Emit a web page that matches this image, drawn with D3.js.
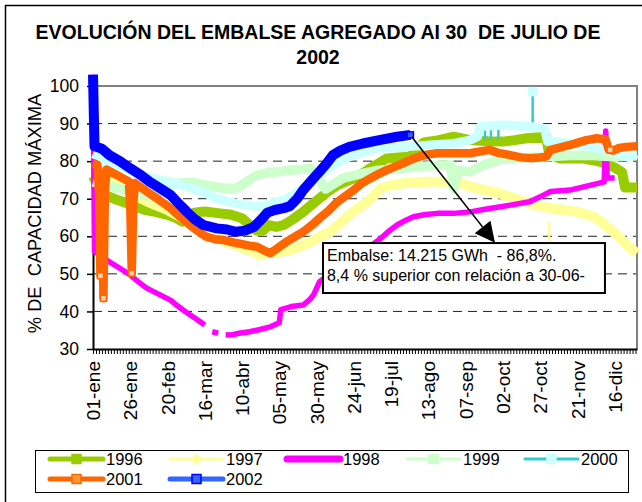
<!DOCTYPE html>
<html>
<head>
<meta charset="utf-8">
<script src="https://cdnjs.cloudflare.com/ajax/libs/d3/7.8.5/d3.min.js"></script>
<style>
  body { margin: 0; background: #fff; }
  svg { display: block; font-family: "Liberation Sans", Arial, sans-serif; }
  text { white-space: pre; }
</style>
</head>
<body>
<div id="chart"></div>
<script>
// values: [day of year (0 = 01-ene), % of max capacity]
var s1996 = [[0,76],[4,73],[8,71],[14,70],[20,69.2],[28,68],[35,67],[42,66.5],[50,65.7],[55,65],[60,63.9],[64,64.5],[68,66.3],[75,66.6],[85,66.1],[92,65.8],[100,64.8],[105,63],[110,61.5],[114,61.5],[118,63],[123,62.5],[128,63],[134,64.5],[141,66.5],[147,68.5],[152,70.1],[158,72],[164,73.6],[170,74.6],[175,75.4],[181,76.8],[186,78.1],[192,79.5],[197,80.7],[205,81],[213,81.2],[217,83],[222,85],[232,85.6],[242,86.5],[253,85.6],[265,85.3],[275,85.2],[283,85.6],[291,86.1],[304,86.5],[306,82],[313,80.7],[320,80.7],[329,80.7],[340,79.9],[346,79],[351,78.1],[355,77],[357,73],[365,73]];
var s1997 = [[0,77.5],[6,76],[12,74.5],[20,72.5],[28,70.8],[35,69.5],[42,68.3],[50,67],[58,65.3],[65,63.5],[72,62],[80,60.5],[88,58.6],[95,57.8],[101,56.8],[107,56],[112,55],[118,55.5],[125,55.8],[132,56.3],[139,57.3],[146,58.6],[152,59.8],[159,61.2],[166,63.5],[172,65.7],[178,67.5],[184,69.2],[189,71],[193,72.8],[200,73.6],[208,74.1],[217,74.4],[226,74.5],[235,74.5],[242,74.5],[248,74],[253,73.2],[263,72.3],[273,71.4],[281,70.3],[289,69.2],[298,68.2],[307,67.4],[316,67],[325,66.5],[336,65.2],[343,63.3],[349,61.2],[355,59],[360,57],[365,55.5]];
var s1998 = [[0,103],[1,56],[6,54.5],[11,53.2],[18,51.5],[25,49.7],[30,48],[36,46.2],[42,45],[47,44],[52,43],[56,41.7],[60,40.5],[65,39.1],[70,37.8],[75,36.4],[77,null],[80,34.6],[84,34.2],[86,null],[89,33.8],[92,33.7],[98,34.2],[105,34.6],[112,35.2],[119,35.9],[125,37],[126,40.5],[133,41.3],[141,41.7],[145,43],[148,44.4],[152,47.9],[158,49.7],[164,51.5],[170,53.3],[177,55],[185,57],[193,59.4],[198,61.2],[204,63],[210,64.3],[215,65.2],[223,65.8],[231,66.1],[242,66.1],[253,66.5],[266,67.4],[280,68.3],[293,69.2],[300,70.5],[307,71.9],[320,72.3],[334,73.6],[343,74.5],[344,88],[345,75.5],[350,75.5]];
var s1999 = [[0,74.5],[10,73.5],[20,72.5],[30,71.5],[40,70.5],[48,72.5],[56,74.1],[65,74.3],[70,74.1],[80,73.3],[88,72.8],[96,72.8],[103,74.5],[110,76.3],[118,77],[125,77.2],[132,77.6],[140,77.8],[146,78.1],[152,75],[156,72.5],[160,73.5],[168,75.5],[178,76.5],[190,77.5],[205,78],[219,78.5],[232,79],[240,79],[242,72.5],[245,77.5],[253,77.2],[262,79],[275,80.5],[290,81],[305,81.2],[320,81.5],[335,81.5],[350,81.2],[365,81.5]];
var s2000 = [[0,82],[8,80.5],[16,79],[25,77.5],[35,76],[45,75],[52,74.5],[60,73.5],[70,72.3],[77,71.2],[83,70.1],[90,69.3],[96,68.8],[103,68.3],[110,67.9],[116,68.2],[122,69],[130,70],[140,72.5],[150,75.5],[157,77.8],[163,79.4],[170,80.8],[175,81.6],[183,82.6],[190,83.4],[200,83.6],[208,83.8],[217,84],[226,84.3],[235,84.5],[242,84.7],[253,85.6],[258,86.5],[260,89.2],[268,89.4],[277,89.6],[285,89.4],[293,89.2],[303,88.7],[305,85.2],[315,85],[325,84.5],[334,83.8],[341,83.2],[347,82.5],[353,81.8],[358,81.2],[365,82]];
var s2001 = [[0,79.5],[3,79],[4,72],[5,49.5],[6,72],[7,43.5],[8,72],[9,77.8],[15,76.5],[24,74.6],[25,68],[26,50.2],[27,68],[28,74.2],[38,71.4],[45,69.5],[52,67.5],[58,65.3],[65,63],[70,61.5],[76,59.9],[82,59.2],[88,59],[95,58.3],[100,57.9],[105,57.5],[110,57.2],[115,56.2],[119,55.5],[123,56.6],[130,58.6],[136,60],[141,61.2],[147,63],[152,64.8],[158,66.8],[163,68.8],[169,70.6],[175,72.3],[180,74],[186,75.4],[191,76.5],[197,77.6],[203,78.6],[208,79.4],[214,80.5],[219,81.2],[225,81.8],[231,82.1],[242,82.1],[253,82.1],[260,82.6],[266,83],[272,82.2],[280,81.6],[287,81],[293,80.8],[300,81],[304,81.2],[307,83],[313,83.6],[320,84.3],[326,85],[331,85.6],[338,86.1],[344,85.8],[346,83],[349,82.8],[353,83.5],[358,83.8],[365,84]];
var s2002 = [[0,103],[1,84],[6,83.3],[11,81.6],[18,80],[25,78.1],[32,76.3],[38,74.5],[45,72.8],[52,71],[58,68.5],[63,66.5],[68,64.6],[74,63],[83,62.1],[90,61.8],[96,61.2],[102,61.5],[108,62.5],[113,64.5],[117,66.3],[122,67],[128,67.5],[132,68],[137,70],[141,72.3],[147,75],[152,77.2],[157,79.5],[161,81.6],[166,82.8],[172,83.8],[181,84.7],[192,85.6],[204,86.5],[213,87]];

// short drops / jumps drawn with the thin line colour: [day, from, to]
var spikes1997 = [[306,64,58.5]];
var spikes2000 = [[263,89.2,85.6],[267,89.2,85.6],[272,89.2,85.6],[295,89.2,98.5]];
// single visible markers
var markers2000 = [[295,98.5]];
var markers2001 = [[5,49.5],[7,43.5],[26,50.2],[347,83]];
var markers2002 = [[213,87]];

var yTicks = [30,40,50,60,70,80,90,100];
var xLabelDays = [0,25,50,75,100,125,150,175,200,225,250,275,300,325,350];
var xLabels = ["01-ene","26-ene","20-feb","16-mar","10-abr","05-may","30-may","24-jun","19-jul","13-ago","07-sep","02-oct","27-oct","21-nov","16-dic"];
var titleLines = ["EVOLUCIÓN DEL EMBALSE AGREGADO AI 30  DE JULIO DE", "2002"];
var yTitle = "% DE  CAPACIDAD MÁXIMA";
var noteLines = ["Embalse: 14.215 GWh  - 86,8%.", "8,4 % superior con relación a 30-06-"];

(function() {
  var widthSvg = 642
  var heightSvg = 502
  var plot = { left: 93, top: 86, right: 637, bottom: 349 }

  var series = [
    { name: "1996", values: s1996, band: "#99CC00", bandWidth: 10, line: "#99CC00", lineWidth: 5, marker: "square", mFill: "#99CC00", mStroke: "#99CC00" },
    { name: "1997", values: s1997, band: "#FFFF99", bandWidth: 10, line: "#FFFF99", lineWidth: 3, marker: "diamond", mFill: "#FFFF99", mStroke: "#FFFF99" },
    { name: "1998", values: s1998, band: "#FF00FF", bandWidth: 5.5, line: "#FF00FF", lineWidth: 7, marker: null },
    { name: "1999", values: s1999, band: "#CCFFCC", bandWidth: 9.5, line: "#CCFFCC", lineWidth: 3, marker: "square", mFill: "#CCFFCC", mStroke: "#CCFFCC" },
    { name: "2000", values: s2000, band: "#CCFFFF", bandWidth: 9, line: "#33CCCC", lineWidth: 3, marker: "square", mFill: "#CCFFFF", mStroke: "#CCFFFF" },
    { name: "2001", values: s2001, band: "#FF6600", bandWidth: 8.5, line: "#FF6600", lineWidth: 5, marker: "square", mFill: "#FF9933", mStroke: "#FF6600" },
    { name: "2002", values: s2002, band: "#0000FF", bandWidth: 10, line: "#3366FF", lineWidth: 5, marker: "square", mFill: "#3366FF", mStroke: "#0000FF" }
  ]

  var svg = d3.select("#chart").append("svg")
    .attr("width", widthSvg)
    .attr("height", heightSvg)

  var x = d3.scaleLinear().domain([0, 365]).range([plot.left, plot.right])
  var y = d3.scaleLinear().domain([30, 100]).range([plot.bottom, plot.top])

  // outer chart frame
  svg.append("rect")
    .attr("x", 5.5).attr("y", 5.5)
    .attr("width", 700).attr("height", 600)
    .attr("fill", "none").attr("stroke", "#000").attr("stroke-width", 1.5)

  // title
  svg.selectAll(".title")
    .data(titleLines)
    .enter().append("text")
    .attr("class", "title")
    .attr("x", 318)
    .attr("y", function(d, i) { return 39 + i * 25 })
    .attr("text-anchor", "middle")
    .attr("font-weight", "bold")
    .attr("font-size", 19.5)
    .text(function(d) { return d })

  // gridlines
  svg.append("g").selectAll("line")
    .data(yTicks.filter(function(d) { return d > 30 && d < 100 }))
    .enter().append("line")
    .attr("x1", plot.left).attr("x2", plot.right)
    .attr("y1", function(d) { return y(d) }).attr("y2", function(d) { return y(d) })
    .attr("stroke", "#222").attr("stroke-width", 1)
    .attr("stroke-dasharray", "9,6")

  // grey top and right border of the plot area
  svg.append("path")
    .attr("d", "M" + plot.left + "," + y(100) + "H" + x(365) + "V" + y(30))
    .attr("fill", "none").attr("stroke", "#808080").attr("stroke-width", 2)

  // y axis
  var yAxis = d3.axisLeft(y).tickValues(yTicks).tickSize(6).tickSizeOuter(0).tickPadding(8)
  var gy = svg.append("g")
    .attr("class", "axis y-axis")
    .attr("transform", "translate(" + plot.left + ",0)")
    .call(yAxis)
  gy.select(".domain").attr("stroke", "#000").attr("stroke-width", 2)
  gy.selectAll("line").attr("stroke", "#000").attr("stroke-width", 1.5)
  gy.selectAll("text").attr("font-size", 17.5).attr("font-family", "Liberation Sans, Arial, sans-serif").attr("fill", "#000")

  svg.append("text")
    .attr("transform", "translate(41," + ((plot.top + plot.bottom) / 2 - 4) + ") rotate(-90)")
    .attr("text-anchor", "middle")
    .attr("font-size", 18.3)
    .text(yTitle)

  // x axis: one small tick every two days
  var xAxis = d3.axisBottom(x).tickValues(d3.range(0, 366, 2)).tickSize(5).tickSizeOuter(0).tickFormat("")
  var gx = svg.append("g")
    .attr("class", "axis x-axis")
    .attr("transform", "translate(0," + plot.bottom + ")")
    .call(xAxis)
  gx.select(".domain").attr("stroke", "#000").attr("stroke-width", 2)
  gx.selectAll("line").attr("stroke", "#000").attr("stroke-width", 1)

  var xLabelAxis = d3.axisBottom(x).tickValues(xLabelDays).tickSize(0)
    .tickFormat(function(d, i) { return xLabels[i] })
  var gxl = svg.append("g")
    .attr("transform", "translate(0," + plot.bottom + ")")
    .call(xLabelAxis)
  gxl.select(".domain").remove()
  gxl.selectAll("text")
    .attr("font-size", 19).attr("font-family", "Liberation Sans, Arial, sans-serif").attr("fill", "#000")
    .attr("transform", "rotate(-90)")
    .attr("x", -12).attr("y", 0).attr("dy", "0.35em")
    .attr("text-anchor", "end")

  // series bands
  var line = d3.line()
    .defined(function(d) { return d[1] != null })
    .x(function(d) { return x(d[0]) })
    .y(function(d) { return y(d[1]) })

  var seriesG = svg.append("g").attr("class", "series")

  function drawSpikes(data, color, w) {
    seriesG.append("g").selectAll("line")
      .data(data)
      .enter().append("line")
      .attr("x1", function(d) { return x(d[0]) }).attr("x2", function(d) { return x(d[0]) })
      .attr("y1", function(d) { return y(d[1]) }).attr("y2", function(d) { return y(d[2]) })
      .attr("stroke", color).attr("stroke-width", w)
  }

  function drawMarkers(data, fill, stroke, size) {
    seriesG.append("g").selectAll("rect")
      .data(data)
      .enter().append("rect")
      .attr("x", function(d) { return x(d[0]) - size / 2 })
      .attr("y", function(d) { return y(d[1]) - size / 2 })
      .attr("width", size).attr("height", size)
      .attr("fill", fill).attr("stroke", stroke).attr("stroke-width", 1.5)
  }

  series.forEach(function(s) {
    if (s.name === "1997") drawSpikes(spikes1997, s.line, 2.5)
    if (s.name === "2000") drawSpikes(spikes2000, s.line, 2.5)
    seriesG.append("path")
      .datum(s.values)
      .attr("d", line)
      .attr("fill", "none")
      .attr("stroke", s.band)
      .attr("stroke-width", s.bandWidth)
      .attr("stroke-linejoin", "round")
      .attr("stroke-linecap", "butt")
    if (s.name === "2000") drawMarkers(markers2000, "#CCFFFF", "#CCFFFF", 8)
    if (s.name === "2001") drawMarkers(markers2001, "#FFD0B0", "#FF6600", 6)
    if (s.name === "2002") drawMarkers(markers2002, "#3366FF", "#0000FF", 6)
  })

  // annotation box with arrow
  var arrowStart = [213.8, 86.5]
  var arrowTip = [269.7, 58.3]
  var p0 = [x(arrowStart[0]), y(arrowStart[1])]
  var p1 = [x(arrowTip[0]), y(arrowTip[1])]
  var len = Math.hypot(p1[0] - p0[0], p1[1] - p0[1])
  var ux = (p1[0] - p0[0]) / len, uy = (p1[1] - p0[1]) / len
  var headL = 20, headW = 10
  var base = [p1[0] - ux * headL, p1[1] - uy * headL]
  svg.append("line")
    .attr("x1", p0[0]).attr("y1", p0[1])
    .attr("x2", base[0]).attr("y2", base[1])
    .attr("stroke", "#000").attr("stroke-width", 1.5)
  svg.append("polygon")
    .attr("points", [p1, [base[0] - uy * headW, base[1] + ux * headW], [base[0] + uy * headW, base[1] - ux * headW]].join(" "))
    .attr("fill", "#000")

  var noteBox = { d0: 154.3, d1: 343.5, v0: 58.2, v1: 44.9 }
  svg.append("rect")
    .attr("x", x(noteBox.d0)).attr("y", y(noteBox.v0))
    .attr("width", x(noteBox.d1) - x(noteBox.d0))
    .attr("height", y(noteBox.v1) - y(noteBox.v0))
    .attr("fill", "#fff").attr("stroke", "#000").attr("stroke-width", 2)
  svg.selectAll(".note")
    .data(noteLines)
    .enter().append("text")
    .attr("class", "note")
    .attr("x", x(noteBox.d0) + 4)
    .attr("y", function(d, i) { return y(noteBox.v0) + 18 + i * 20 })
    .attr("font-size", 16)
    .text(function(d) { return d })

  // legend
  var legendCols = [50, 170, 287, 407, 525]
  var legendRows = [459, 479]
  svg.append("rect")
    .attr("x", 35.5).attr("y", 450.5).attr("width", 593).attr("height", 42)
    .attr("fill", "#fff").attr("stroke", "#000").attr("stroke-width", 1)

  var legend = svg.append("g").selectAll("g")
    .data(series)
    .enter().append("g")
    .attr("transform", function(d, i) {
      return "translate(" + legendCols[i % 5] + "," + legendRows[Math.floor(i / 5)] + ")"
    })

  legend.append("line")
    .attr("x1", 0).attr("x2", 53).attr("y1", 0).attr("y2", 0)
    .attr("stroke", function(d) { return d.line })
    .attr("stroke-width", function(d) { return d.lineWidth })
    .attr("stroke-linecap", "round")

  legend.filter(function(d) { return d.marker === "square" })
    .append("rect")
    .attr("x", 22).attr("y", -4.5).attr("width", 9).attr("height", 9)
    .attr("fill", function(d) { return d.mFill })
    .attr("stroke", function(d) { return d.mStroke })
    .attr("stroke-width", 1.5)

  legend.filter(function(d) { return d.marker === "diamond" })
    .append("path")
    .attr("d", "M26.5,-6L32.5,0L26.5,6L20.5,0Z")
    .attr("fill", function(d) { return d.mFill })

  legend.append("text")
    .attr("x", 56).attr("y", 6)
    .attr("font-size", 16.5)
    .text(function(d) { return d.name })
})();
</script>
</body>
</html>
